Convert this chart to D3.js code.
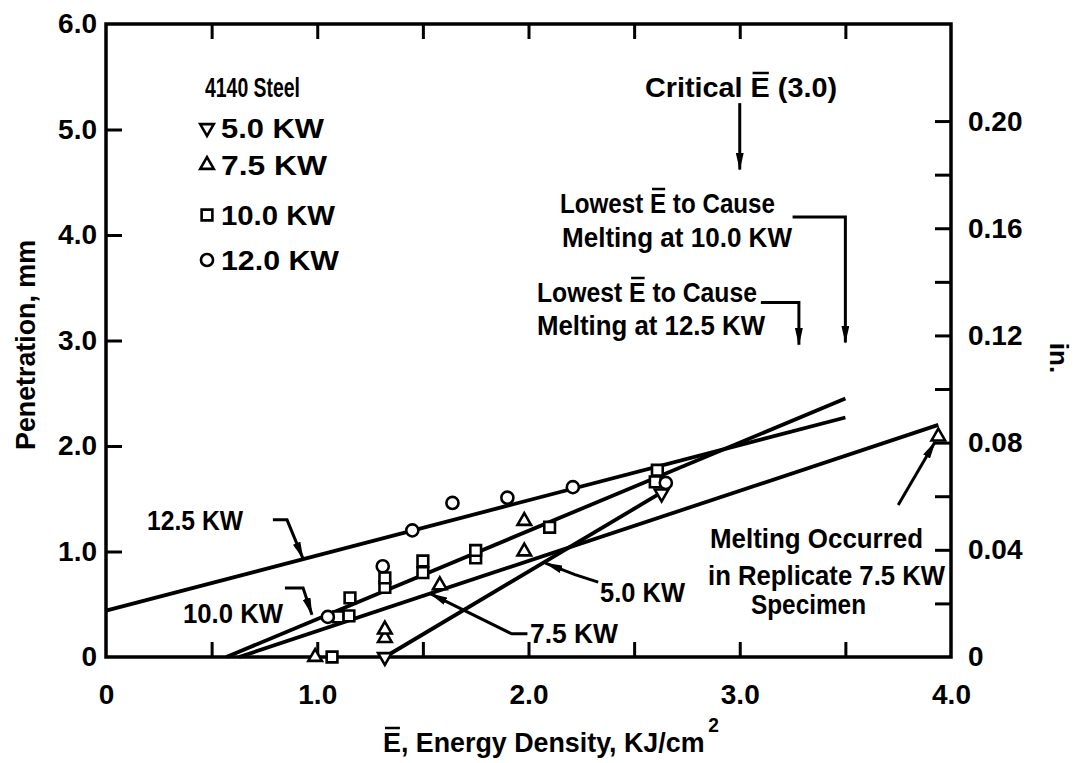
<!DOCTYPE html>
<html>
<head>
<meta charset="utf-8">
<script src="https://cdn.jsdelivr.net/npm/d3@7"></script>
<style>
body { margin: 0; background: #fff; }
svg text { font-family: "Liberation Sans", Arial, sans-serif; font-weight: bold; fill: #000; }
.tick text { font-size: 28px; }
.tick line { stroke: #000; stroke-width: 3; }
</style>
</head>
<body>
<svg id="chart" width="1080" height="763"></svg>
<script>
// points: x = energy density (KJ/cm2), y = penetration (mm)
let kw5X = [1.32, 2.63]
let kw5Y = [0.0, 1.55]
let kw75X = [0.99, 1.32, 1.32, 1.58, 1.98, 1.98, 3.94]
let kw75Y = [0.0, 0.18, 0.26, 0.68, 1.00, 1.29, 2.09]
let kw10X = [1.07, 1.10, 1.15, 1.155, 1.32, 1.32, 1.50, 1.50, 1.75, 1.75, 2.10, 2.60, 2.61]
let kw10Y = [0.0, 0.38, 0.39, 0.56, 0.66, 0.75, 0.80, 0.91, 0.94, 1.01, 1.23, 1.66, 1.77]
let kw12X = [1.05, 1.31, 1.45, 1.64, 1.90, 2.21, 2.65]
let kw12Y = [0.38, 0.86, 1.20, 1.46, 1.51, 1.61, 1.65]

// fitted lines (start, end)
let fitNames = ['5.0 KW', '7.5 KW', '10.0 KW', '12.5 KW']
let fitX = [[1.32, 2.63], [0.63, 3.94], [0.57, 3.5], [0, 3.5]]
let fitY = [[0, 1.56], [0, 2.2], [0, 2.45], [0.44, 2.27]]

let xTicks = [0, 1, 2, 3, 4]
let xTickLabels = ['0', '1.0', '2.0', '3.0', '4.0']
let yTicks = [0, 1, 2, 3, 4, 5, 6]
let yTickLabels = ['0', '1.0', '2.0', '3.0', '4.0', '5.0', '6.0']
let inTicks = [0, 0.04, 0.08, 0.12, 0.16, 0.20]
let inTickLabels = ['0', '0.04', '0.08', '0.12', '0.16', '0.20']

let legendNames = ['5.0 KW', '7.5 KW', '10.0 KW', '12.0 KW']

let svg = d3.select('#chart')
let x = d3.scaleLinear().domain([0, 4]).range([106, 951])
let y = d3.scaleLinear().domain([0, 6]).range([657, 24])
let yIn = d3.scaleLinear().domain([0, 6 / 25.4]).range([657, 24])

svg.append('defs').append('marker')
    .attr('id', 'head')
    .attr('viewBox', '0 0 18 8')
    .attr('refX', 17).attr('refY', 4)
    .attr('markerWidth', 18).attr('markerHeight', 8)
    .attr('markerUnits', 'userSpaceOnUse')
    .attr('orient', 'auto')
    .append('path').attr('d', 'M0,0 L18,4 L0,8 Z').attr('fill', '#000')

// frame
svg.append('rect')
    .attr('x', x(0)).attr('y', y(6))
    .attr('width', x(4) - x(0)).attr('height', y(0) - y(6))
    .attr('fill', 'none').attr('stroke', '#000').attr('stroke-width', 3.5)

let noDomain = (g) => g.select('.domain').remove()
let halfSteps = d3.range(0.5, 4, 0.5)

svg.append('g').attr('transform', `translate(0,${y(0)})`)
    .call(d3.axisBottom(x).tickValues(halfSteps).tickSize(-15).tickFormat('')).call(noDomain)
svg.append('g').attr('transform', `translate(0,${y(6)})`)
    .call(d3.axisTop(x).tickValues(halfSteps).tickSize(-15).tickFormat('')).call(noDomain)
svg.append('g').attr('transform', `translate(0,${y(0)})`)
    .call(d3.axisBottom(x).tickValues(xTicks).tickSize(0).tickPadding(27)
        .tickFormat((d, i) => xTickLabels[i])).call(noDomain)

svg.append('g').attr('transform', `translate(${x(0)},0)`)
    .call(d3.axisLeft(y).tickValues([1, 2, 3, 4, 5]).tickSize(-16).tickFormat('')).call(noDomain)
svg.append('g').attr('transform', `translate(${x(0)},0)`)
    .call(d3.axisLeft(y).tickValues(yTicks).tickSize(0).tickPadding(9)
        .tickFormat((d, i) => yTickLabels[i])).call(noDomain)

svg.append('g').attr('transform', `translate(${x(4)},0)`)
    .call(d3.axisRight(yIn).tickValues(d3.range(1, 11).map(i => i * 0.02)).tickSize(-16).tickFormat('')).call(noDomain)
svg.append('g').attr('transform', `translate(${x(4)},0)`)
    .call(d3.axisRight(yIn).tickValues(inTicks).tickSize(0).tickPadding(17)
        .tickFormat((d, i) => inTickLabels[i])).call(noDomain)

// fitted lines
let line = d3.line()
fitNames.forEach((name, i) => {
    svg.append('path')
        .attr('d', line(fitX[i].map((v, j) => [x(v), y(fitY[i][j])])))
        .attr('fill', 'none').attr('stroke', '#000').attr('stroke-width', 3.8)
})

// markers
let tri = d3.symbol().type(d3.symbolTriangle).size(80)
let sq = d3.symbol().type(d3.symbolSquare).size(115)
let circ = d3.symbol().type(d3.symbolCircle).size(115)
let series = [
    { xs: kw5X, ys: kw5Y, sym: tri, rot: 180 },
    { xs: kw75X, ys: kw75Y, sym: tri, rot: 0 },
    { xs: kw10X, ys: kw10Y, sym: sq, rot: 0 },
    { xs: kw12X, ys: kw12Y, sym: circ, rot: 0 }
]
series.forEach((s) => {
    svg.append('g').selectAll('path')
        .data(s.xs)
        .enter()
        .append('path')
        .attr('d', s.sym())
        .attr('transform', (d, i) => `translate(${x(d)},${y(s.ys[i])}) rotate(${s.rot})`)
        .attr('fill', '#fff').attr('stroke', '#000').attr('stroke-width', 2.6)
})

// legend
let legendRows = [128, 165, 215, 260]
let legendLen = [103, 106, 114, 118]
series.forEach((s, i) => {
    svg.append('path')
        .attr('d', s.sym())
        .attr('transform', `translate(207,${legendRows[i]}) rotate(${s.rot})`)
        .attr('fill', '#fff').attr('stroke', '#000').attr('stroke-width', 2.6)
})

// text helper; the bar over E is a short line placed on the glyph's box
let note = (str, px, py, opts) => {
    opts = opts || {}
    let g = svg.append('g')
    if (opts.rot) g.attr('transform', `rotate(${opts.rot},${px},${py})`)
    let t = g.append('text')
        .attr('x', px).attr('y', py)
        .attr('font-size', opts.size || 28)
        .attr('text-anchor', opts.anchor || 'start')
    t.append('tspan').text(str.replace('Ē', 'E'))
    if (opts.sup) {
        t.append('tspan').attr('dx', 4).attr('dy', -20).attr('font-size', 20).text(opts.sup)
    }
    if (opts.len) t.attr('textLength', opts.len).attr('lengthAdjust', 'spacingAndGlyphs')
    let k = str.indexOf('Ē')
    if (k >= 0) {
        let box = t.node().getExtentOfChar(k)
        g.append('line')
            .attr('x1', box.x + 2).attr('x2', box.x + box.width - 1)
            .attr('y1', box.y + 1).attr('y2', box.y + 1)
            .attr('stroke', '#000').attr('stroke-width', 2.5)
    }
    return t
}

legendNames.forEach((name, i) => {
    note(name, 221, legendRows[i] + 10, { len: legendLen[i] })
})
note('4140 Steel', 205, 97, { size: 28, len: 95 })

let arrow = (pts) => {
    svg.append('path')
        .attr('d', line(pts.map(p => [x(p[0]), y(p[1])])))
        .attr('fill', 'none').attr('stroke', '#000').attr('stroke-width', 3)
        .attr('marker-end', 'url(#head)')
}

note('Critical Ē (3.0)', 741, 97, { anchor: 'middle', len: 192 })
arrow([[3.0, 5.25], [3.0, 4.62]])

note('Lowest Ē to Cause', 560, 213, { len: 215 })
note('Melting at 10.0 KW', 562, 247, { len: 230 })
arrow([[3.25, 4.17], [3.5, 4.17], [3.5, 2.98]])

note('Lowest Ē to Cause', 537, 302, { len: 220 })
note('Melting at 12.5 KW', 537, 335, { len: 228 })
arrow([[3.10, 3.36], [3.28, 3.36], [3.28, 2.96]])

note('12.5 KW', 147, 530, { len: 96 })
arrow([[0.79, 1.30], [0.857, 1.30], [0.933, 0.93]])

note('10.0 KW', 183, 623, { len: 100 })
arrow([[0.847, 0.654], [0.933, 0.654], [0.975, 0.40]])

note('5.0 KW', 600, 602, { len: 85 })
arrow([[2.33, 0.71], [2.22, 0.78], [2.08, 0.89]])

note('7.5 KW', 530, 643, { len: 88 })
arrow([[1.995, 0.22], [1.92, 0.22], [1.535, 0.60]])

note('Melting Occurred', 710, 548, { len: 213 })
note('in Replicate 7.5 KW', 708, 585, { len: 237 })
note('Specimen', 751, 614, { len: 115 })
arrow([[3.75, 1.44], [3.925, 2.04]])

// axis titles
note('Ē, Energy Density, KJ/cm', 383, 752, { len: 336, sup: '2' })
note('Penetration, mm', 35, 345, { anchor: 'middle', rot: -90, len: 210 })
note('in.', 1050, 358, { anchor: 'middle', rot: 90, size: 26 })
</script>
</body>
</html>
